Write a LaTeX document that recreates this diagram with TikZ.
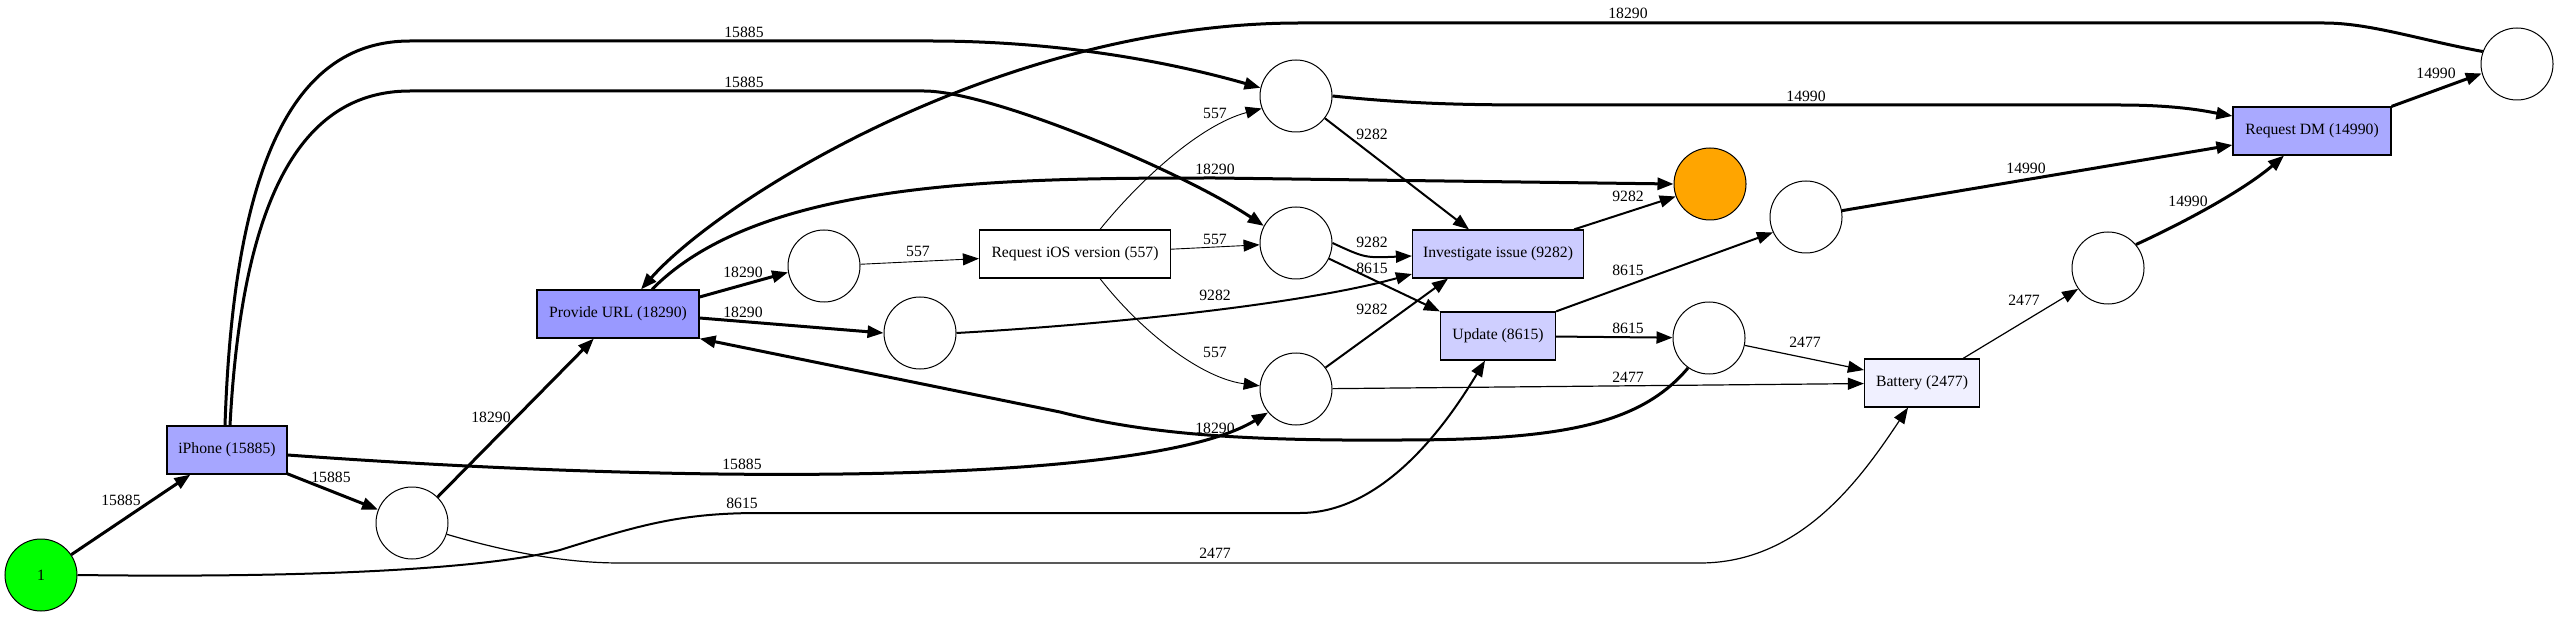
\documentclass[tikz,border=0pt]{standalone}
\usepackage{fontspec}
\setmainfont{Liberation Serif}
\usepackage{tikz}
\usetikzlibrary{arrows.meta}
\usetikzlibrary{calc}
\definecolor{startgreen}{HTML}{00FF00}
\definecolor{endorange}{HTML}{FFA500}
\definecolor{act18290}{HTML}{9999FF}
\definecolor{act15885}{HTML}{A6A6FF}
\definecolor{act14990}{HTML}{A9A9FF}
\definecolor{act9282}{HTML}{CCCCFF}
\definecolor{act8615}{HTML}{CFCFFF}
\definecolor{act2477}{HTML}{F0F0FF}
\newcommand{\netfont}{\fontsize{15.7pt}{18pt}\selectfont}

\begin{document}
\begin{tikzpicture}[x=1pt, y=-1pt]
 \tikzstyle{pnode}=[circle, draw, line width=1pt, minimum size=72pt, inner sep=0pt, font=\netfont]
 \tikzstyle{tnode}=[rectangle, draw, line width=1.2pt, minimum height=48pt, inner sep=0pt, font=\netfont]
 \tikzstyle{arc}=[draw, -{Triangle[length=16pt,width=12pt]}]
 \tikzstyle{hv}=[line width=3pt]
 \tikzstyle{md}=[line width=2pt]
 \tikzstyle{lt}=[line width=1.2pt]
 \tikzstyle{xl}=[line width=0.9pt]
 \tikzstyle{lbl}=[inner sep=0pt, font=\netfont]
 \useasboundingbox (0,0) rectangle (2555,617);

 % places
 \node[pnode, fill=startgreen] (start) at (41,575) {1};
 \node[pnode] (p1) at (412,523) {};
 \node[pnode] (p2) at (824,266) {};
 \node[pnode] (p3) at (920,333) {};
 \node[pnode] (p5) at (1296,96) {};
 \node[pnode] (p6) at (1296,243) {};
 \node[pnode] (p4) at (1296,389) {};
 \node[pnode, fill=endorange] (final) at (1710,184) {};
 \node[pnode] (p8) at (1806,217) {};
 \node[pnode] (p10) at (1709,338) {};
 \node[pnode] (p9) at (2108,268) {};
 \node[pnode] (p7) at (2517,64) {};

 % transitions
 \node[tnode, fill=act15885, minimum width=120pt] (iphone) at (227,450) {iPhone (15885)};
 \node[tnode, fill=act18290, minimum width=162pt] (provide) at (618,314) {Provide URL (18290)};
 \node[tnode, fill=white, minimum width=191pt] (rios) at (1075,254) {Request iOS version (557)};
 \node[tnode, fill=act9282, minimum width=171pt] (invest) at (1498,254) {Investigate issue (9282)};
 \node[tnode, fill=act8615, minimum width=115pt] (update) at (1498,336) {Update (8615)};
 \node[tnode, fill=act2477, minimum width=115pt] (battery) at (1922,383) {Battery (2477)};
 \node[tnode, fill=act14990, minimum width=158pt] (reqdm) at (2312,131) {Request DM (14990)};

 % arcs
 \path[arc,hv] (start) -- (iphone) node[lbl] at (121,500) {15885};
 \path[arc,hv] (iphone) -- (p1) node[lbl] at (331,477) {15885};
 \path[arc,hv] ([xshift=-2pt]iphone.north) .. controls (234,150) and (300,41) .. (410,41) -- (930,41)
   .. controls (1060,41) and (1170,62) .. (p5.167) node[lbl] at (744,32) {15885};
 \path[arc,hv] ([xshift=3pt]iphone.north) .. controls (242,200) and (300,91) .. (410,91) -- (924,91)
   .. controls (990,91) and (1180,170) .. (p6.152) node[lbl] at (744,82) {15885};
 \path[arc,hv] ([yshift=-5pt]iphone.east) .. controls (700,485) and (1150,485) .. (p4.220) node[lbl] at (742,464) {15885};
 \path[arc,hv] (p1) -- (provide) node[lbl] at (491,417) {18290};
 \path[arc,hv] (p7.160) .. controls (2420,40) and (2370,23) .. (2324,23) -- (1300,23)
   .. controls (1000,23) and (720,200) .. ([xshift=23pt]provide.north) node[lbl] at (1628,13) {18290};
 \path[arc,hv] ([xshift=34pt]provide.north) .. controls (760,180) and (1000,178) .. (1215,178)
   -- (final.west) node[lbl] at (1215,169) {18290};
 \path[arc,hv] ([yshift=17pt]provide.east) -- (p2.190) node[lbl] at (743,272) {18290};
 \path[arc,hv] ([yshift=-4pt]provide.east) -- (p3.west) node[lbl] at (743,312) {18290};
 \path[arc,hv] (p10.235) .. controls (1640,425) and (1560,440) .. (1400,440)
   .. controls (1250,441) and (1150,435) .. (1060,412) -- (provide.south east) node[lbl] at (1215,428) {18290};
 \path[arc,xl] (p2) -- (rios) node[lbl] at (918,251) {557};
 \path[arc,xl] ([xshift=25pt]rios.north) .. controls (1140,180) and (1200,125) .. (p5.200) node[lbl] at (1215,113) {557};
 \path[arc,xl] (rios) -- (p6) node[lbl] at (1215,239) {557};
 \path[arc,xl] ([xshift=25pt]rios.south) .. controls (1140,330) and (1200,378) .. (p4.175) node[lbl] at (1215,352) {557};
 \path[arc,md] (p5) -- ([xshift=-29pt]invest.north) node[lbl] at (1372,134) {9282};
 \path[arc,hv] (p5.east) .. controls (1420,105) and (1480,105) .. (1560,105) -- (2120,105)
   .. controls (2180,105) and (2210,112) .. ([yshift=15pt]reqdm.west) node[lbl] at (1806,96) {14990};
 \path[arc,md] (p6.east) .. controls (1365,258) .. ([yshift=-2pt]invest.west) node[lbl] at (1372,242) {9282};
 \path[arc,md] (p6) -- (update.north west) node[lbl] at (1372,268) {8615};
 \path[arc,md] (p3.east) .. controls (1100,325) and (1300,305) .. ([yshift=-20pt]invest.west) node[lbl] at (1215,295) {9282};
 \path[arc,md] (p4) -- ([xshift=-50pt]invest.south) node[lbl] at (1372,309) {9282};
 \path[arc,lt] (p4) -- (battery) node[lbl] at (1628,377) {2477};
 \path[arc,md] ([xshift=-10pt]invest.north east) -- (final.200) node[lbl] at (1628,196) {9282};
 \path[arc,md] (update.north east) -- (p8.205) node[lbl] at (1628,270) {8615};
 \path[arc,md] (update) -- (p10) node[lbl] at (1628,328) {8615};
 \path[arc,lt] (p10) -- ([yshift=13pt]battery.west) node[lbl] at (1805,342) {2477};
 \path[arc,md] (start.east) .. controls (300,578) and (480,570) .. (560,550) .. controls (640,525) and (680,513) .. (760,513)
   -- (1300,513) .. controls (1390,513) and (1455,410) .. ([xshift=-13pt]update.south) node[lbl] at (742,503) {8615};
 \path[arc,lt] (p1.-18) .. controls (500,550) and (560,563) .. (620,563) -- (1700,563)
   .. controls (1800,563) and (1860,480) .. ([xshift=-14pt]battery.south) node[lbl] at (1215,553) {2477};
 \path[arc,hv] (p8.10) -- ([yshift=-14pt]reqdm.west) node[lbl] at (2026,168) {14990};
 \path[arc,hv] (p9.40) .. controls (2200,215) and (2250,185) .. ([xshift=-28pt]reqdm.south) node[lbl] at (2188,201) {14990};
 \path[arc,lt] ([xshift=-17pt]battery.north east) -- (p9.215) node[lbl] at (2024,300) {2477};
 \path[arc,hv] (reqdm.north east) -- (p7.195) node[lbl] at (2436,73) {14990};

\end{tikzpicture}
\end{document}
